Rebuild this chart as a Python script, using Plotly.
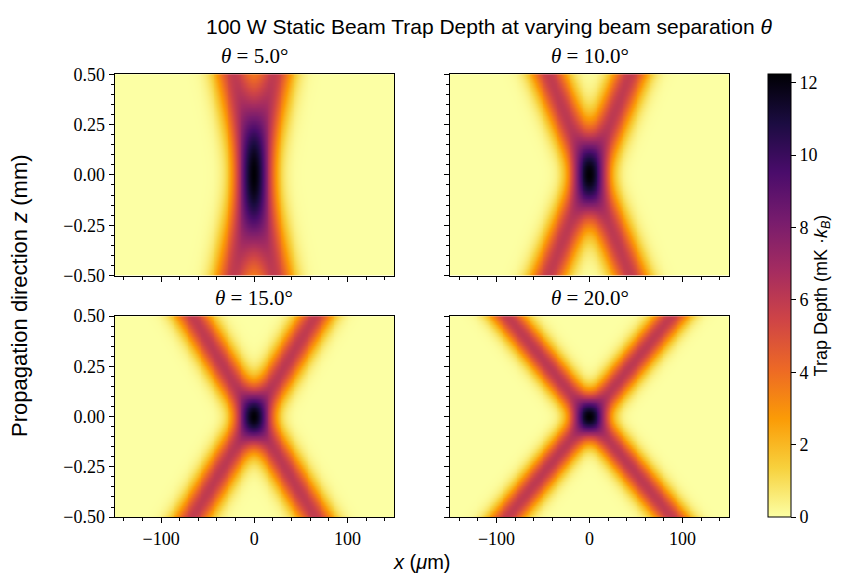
import numpy as np
import plotly.graph_objects as go

# ---- data / physical parameters ----
angles_deg = [5.0, 10.0, 15.0, 20.0]          # beam separation theta
panel_titles = ["5.0°", "10.0°", "15.0°", "20.0°"]
beam_depth_mK = 6.12                           # single-beam peak trap depth
waist_um = 28.0                                # 1/e^2 beam waist
wavelength_um = 1.064
x_range_um = [-150.0, 150.0]
z_range_mm = [-0.5, 0.5]
x_ticks = [-100, 0, 100]
z_ticks = [-0.5, -0.25, 0.0, 0.25, 0.5]
z_tick_text = ["−0.50", "−0.25", "0.00", "0.25", "0.50"]
x_tick_text = ["−100", "0", "100"]
cbar_ticks = [0, 2, 4, 6, 8, 10, 12]

x = np.linspace(x_range_um[0], x_range_um[1], 301)
z = np.linspace(z_range_mm[0], z_range_mm[1], 251)
X, Z = np.meshgrid(x, z * 1000.0)
zR = np.pi * waist_um ** 2 / wavelength_um


def beam(a):
    along = Z * np.cos(a) + X * np.sin(a)
    perp = X * np.cos(a) - Z * np.sin(a)
    w = waist_um * np.sqrt(1 + (along / zR) ** 2)
    return beam_depth_mK * (waist_um / w) ** 2 * np.exp(-2 * perp ** 2 / w ** 2)


W, H = 867, 585
def fx(px): return px / W
def fy(py): return 1 - py / H

cols = [(114.5, 394.0), (450.0, 729.0)]
rows = [(66.5, 275.0), (317.0, 525.0)]

fig = go.Figure()
serif = "Liberation Serif"
sans = "Liberation Sans"
zmax = 2 * beam_depth_mK

annotations = []
for i, th in enumerate(angles_deg):
    r, c = divmod(i, 2)
    a = np.deg2rad(th / 2)
    depth = beam(a) + beam(-a)
    idx = "" if i == 0 else str(i + 1)
    fig.add_trace(go.Heatmap(
        x=x, z=depth, y=z, xaxis="x" + idx, yaxis="y" + idx,
        colorscale="Inferno", reversescale=True, zmin=0, zmax=zmax,
        showscale=(i == 0),
        colorbar=dict(
            x=fx(768), xanchor="left", y=fy(525), yanchor="bottom",
            len=(525 - 66) / H, lenmode="fraction", xpad=0, ypad=0,
            thickness=23, thicknessmode="pixels",
            outlinecolor="black", outlinewidth=1,
            ticks="outside", ticklen=5, tickcolor="black",
            tickvals=cbar_ticks, tickfont=dict(family=serif, size=18, color="black"),
            title=dict(text="Trap Depth (mK ·<i>k<sub>B</sub></i>)", side="right",
                       font=dict(family=sans, size=18, color="black")),
        ),
        hoverinfo="skip",
    ))
    common = dict(showline=True, linecolor="black", linewidth=1, mirror=True,
                  ticks="outside", ticklen=5, tickcolor="black",
                  tickfont=dict(family=serif, size=18, color="black"),
                  showgrid=False, zeroline=False)
    fig.layout["xaxis" + idx] = dict(
        domain=[fx(cols[c][0]), fx(cols[c][1])], anchor="y" + idx,
        range=x_range_um, tickvals=x_ticks, ticktext=x_tick_text,
        showticklabels=(r == 1),
        minor=dict(dtick=20, tick0=0, ticks="outside", ticklen=3, tickcolor="black"),
        **common)
    fig.layout["yaxis" + idx] = dict(
        domain=[fy(rows[r][1]), fy(rows[r][0])], anchor="x" + idx,
        range=z_range_mm, tickvals=z_ticks, ticktext=z_tick_text,
        showticklabels=(c == 0),
        minor=dict(dtick=0.05, tick0=0, ticks="outside", ticklen=3, tickcolor="black"),
        **common)
    annotations.append(dict(
        text="<i>θ</i> = " + panel_titles[i],
        x=fx((cols[c][0] + cols[c][1]) / 2), y=fy(rows[r][0] - 4),
        xref="paper", yref="paper", xanchor="center", yanchor="bottom",
        showarrow=False, font=dict(family=serif, size=21, color="black")))

annotations.append(dict(
    text="100 W Static Beam Trap Depth at varying beam separation <i>θ</i>",
    x=fx(489), y=fy(17), xref="paper", yref="paper", xanchor="center", yanchor="middle",
    showarrow=False, font=dict(family=sans, size=21, color="black")))
annotations.append(dict(
    text="<i>x</i> (<i>μ</i>m)", x=fx(421.5), y=fy(572), xref="paper", yref="paper",
    xanchor="center", yanchor="middle", showarrow=False,
    font=dict(family=sans, size=20, color="black")))
annotations.append(dict(
    text="Propagation direction <i>z</i> (mm)", x=fx(20), y=fy(296), xref="paper", yref="paper",
    xanchor="center", yanchor="middle", textangle=-90, showarrow=False,
    font=dict(family=sans, size=22, color="black")))

fig.update_layout(
    width=W, height=H, margin=dict(l=0, r=0, t=0, b=0),
    paper_bgcolor="white", plot_bgcolor="white",
    annotations=annotations, showlegend=False,
)

fig.write_html("out.html")
